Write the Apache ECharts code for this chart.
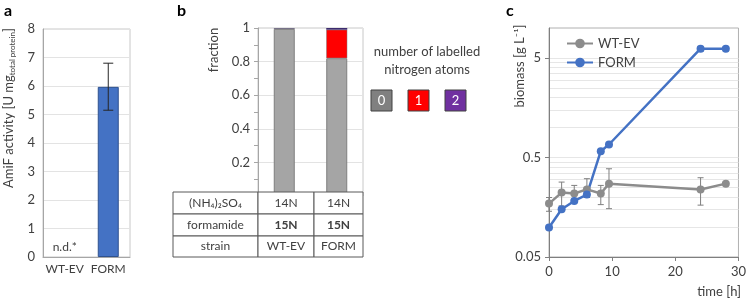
<!DOCTYPE html>
<html>
<head>
<meta charset="utf-8">
<script src="https://cdn.jsdelivr.net/npm/echarts@6/dist/echarts.min.js"></script>
<style>
  html, body { margin: 0; padding: 0; background: #fff; }
  #main { width: 749px; height: 299px; }
</style>
</head>
<body>
<div id="main"></div>
<script>
  // panel a - AmiF activity
  const strainsA = ['WT-EV', 'FORM']
  const activity = [0, 5.97]
  const activityLow = [null, 5.15]
  const activityHigh = [null, 6.8]

  // panel b - labelled nitrogen fractions
  const strainsB = ['WT-EV', 'FORM']
  const labelled0 = [0.995, 0.82]
  const labelled1 = [0.003, 0.17]
  const labelled2 = [0.002, 0.01]
  const tableRows = [
    ['(NH₄)₂SO₄', '14N', '14N'],
    ['formamide', '15N', '15N'],
    ['strain', 'WT-EV', 'FORM']
  ]
  const legendB = ['0', '1', '2']

  // panel c - biomass over time
  const timeH = [0, 2, 4, 6, 8.2, 9.5, 24, 28]
  const wtBiomass = [0.172, 0.222, 0.217, 0.239, 0.217, 0.273, 0.238, 0.273]
  const wtLow = [0.144, 0.163, 0.186, 0.2, 0.168, 0.153, 0.166, 0.266]
  const wtHigh = [0.198, 0.283, 0.262, 0.306, 0.262, 0.385, 0.313, 0.28]
  const formBiomass = [0.099, 0.151, 0.183, 0.212, 0.578, 0.675, 6.19, 6.19]
  const formLow = [0.097, 0.146, 0.178, 0.198, 0.565, 0.66, 5.85, 5.9]
  const formHigh = [0.101, 0.156, 0.188, 0.225, 0.59, 0.69, 6.5, 6.5]
  const yTicksC = [0.05, 0.5, 5]
  const gridLinesC = [0.1, 0.15, 0.2, 0.25, 0.3, 0.35, 0.4, 0.45, 0.5,
    1, 1.5, 2, 2.5, 3, 3.5, 4, 4.5, 5]

  const font = 'Lato'
  const txt = '#404040'
  const COLORS = {
    blue: '#4472c4',
    blueDark: '#2f528f',
    gray: '#8c8c8c',
    barGray: '#a5a5a5',
    red: '#ff0000',
    purple: '#7030a0',
    grid: '#e3e3e3',
    axis: '#a6a6a6'
  }
  const legendColorsB = ['#808080', COLORS.red, COLORS.purple]

  // vertical error bar with caps, through the axis scale
  function errorBar(color, capW) {
    return function (params, api) {
      const x = api.value(0)
      const lo = api.coord([x, api.value(1)])
      const hi = api.coord([x, api.value(2)])
      const style = { stroke: color, lineWidth: 1 }
      return {
        type: 'group',
        children: [
          { type: 'line', shape: { x1: lo[0], y1: lo[1], x2: hi[0], y2: hi[1] }, style },
          { type: 'line', shape: { x1: lo[0] - capW, y1: lo[1], x2: lo[0] + capW, y2: lo[1] }, style },
          { type: 'line', shape: { x1: hi[0] - capW, y1: hi[1], x2: hi[0] + capW, y2: hi[1] }, style }
        ]
      }
    }
  }

  const errA = []
  activity.forEach((v, i) => {
    if (activityLow[i] != null) errA.push([i, activityLow[i], activityHigh[i]])
  })
  const errWt = timeH.map((t, i) => [t, wtLow[i], wtHigh[i]])
  const errForm = timeH.map((t, i) => [t, formLow[i], formHigh[i]])

  // table under panel b
  const colX = [173, 258, 314, 363]
  const rowY = [192, 214, 236, 257]
  const tableEls = []
  tableRows.forEach((row, r) => {
    row.forEach((cell, c) => {
      tableEls.push({
        type: 'rect',
        z: 100,
        shape: { x: colX[c], y: rowY[r], width: colX[c + 1] - colX[c], height: rowY[r + 1] - rowY[r] },
        style: { fill: '#fff', stroke: '#595959', lineWidth: 1 }
      })
      tableEls.push({
        type: 'text',
        z: 101,
        x: (colX[c] + colX[c + 1]) / 2,
        y: (rowY[r] + rowY[r + 1]) / 2,
        style: {
          text: cell,
          align: 'center',
          verticalAlign: 'middle',
          fontFamily: font,
          fontSize: 12,
          fontWeight: (r === 1 && c > 0) ? 'bold' : 'normal',
          fill: txt
        }
      })
    })
  })

  const legendEls = []
  legendB.forEach((lab, i) => {
    const x0 = 371 + i * 37
    legendEls.push({
      type: 'rect',
      shape: { x: x0, y: 90, width: 21, height: 21 },
      style: { fill: legendColorsB[i], stroke: '#404040', lineWidth: 1 }
    })
    legendEls.push({
      type: 'text',
      x: x0 + 10.5, y: 101,
      style: { text: lab, align: 'center', verticalAlign: 'middle', fontFamily: font, fontSize: 13, fill: '#fff' }
    })
  })

  const myChart = echarts.init(document.getElementById('main'))
  const option = {
    backgroundColor: '#fff',
    animation: false,
    textStyle: { fontFamily: font, color: txt },
    legend: {
      data: ['WT-EV', 'FORM'],
      orient: 'vertical',
      left: 561,
      top: 32,
      itemWidth: 26,
      itemHeight: 12,
      itemGap: 6,
      textStyle: { fontFamily: font, fontSize: 13, color: txt }
    },
    grid: [
      { left: 43, top: 29, width: 87, height: 228, show: true, borderColor: '#c8c8c8', borderWidth: 1 },
      { left: 258, top: 28, width: 105, height: 168, show: true, borderColor: '#c8c8c8', borderWidth: 1 },
      { left: 549, top: 28, width: 192, height: 229, show: true, borderColor: '#b0b0b0', borderWidth: 1 }
    ],
    xAxis: [
      {
        gridIndex: 0, type: 'category', data: strainsA,
        axisLine: { lineStyle: { color: COLORS.axis } },
        axisTick: { show: false },
        axisLabel: { fontSize: 12, color: txt, margin: 6, interval: 0, hideOverlap: false }
      },
      {
        gridIndex: 1, type: 'category', data: strainsB,
        axisLine: { show: false }, axisTick: { show: false }, axisLabel: { show: false }
      },
      {
        gridIndex: 2, type: 'value', min: 0, max: 30, interval: 10,
        axisLine: { lineStyle: { color: '#7f7f7f' } },
        axisTick: { show: true, length: 4, lineStyle: { color: '#7f7f7f' } },
        axisLabel: { fontSize: 13, color: txt, margin: 8 },
        splitLine: { show: false }
      }
    ],
    yAxis: [
      {
        gridIndex: 0, type: 'value', min: 0, max: 8, interval: 1,
        axisLine: { show: true, lineStyle: { color: COLORS.axis } },
        axisTick: { show: false },
        axisLabel: { fontSize: 13, color: txt, margin: 8 },
        splitLine: { lineStyle: { color: COLORS.grid } }
      },
      {
        gridIndex: 1, type: 'value', min: 0, max: 1, interval: 0.2,
        axisLine: { show: true, lineStyle: { color: COLORS.axis } },
        axisTick: { show: true, length: 4, lineStyle: { color: COLORS.axis } },
        minorTick: { show: true, splitNumber: 2, length: 4, lineStyle: { color: COLORS.axis } },
        axisLabel: {
          fontSize: 13, color: txt, margin: 8,
          formatter: v => (v === 0 ? '' : String(+v.toFixed(1)))
        },
        splitLine: { lineStyle: { color: COLORS.grid } }
      },
      {
        gridIndex: 2, type: 'log', logBase: 10, min: 0.05, max: 10,
        axisLine: { show: true, lineStyle: { color: '#7f7f7f' } },
        axisTick: { show: true, length: 4, customValues: yTicksC, lineStyle: { color: '#7f7f7f' } },
        axisLabel: {
          fontSize: 13, color: txt, margin: 8, customValues: yTicksC,
          formatter: v => String(+(+v).toPrecision(2))
        },
        splitLine: { show: false }
      }
    ],
    series: [
      {
        name: 'activity', type: 'bar', xAxisIndex: 0, yAxisIndex: 0,
        barWidth: 21,
        itemStyle: { color: COLORS.blue, borderColor: COLORS.blueDark, borderWidth: 1 },
        data: activity.map((v, i) => (i === 0
          ? {
              value: v,
              itemStyle: { color: 'rgba(0,0,0,0)', borderWidth: 0 },
              label: { show: true, position: 'top', distance: 4, formatter: 'n.d.*', fontSize: 12, color: txt }
            }
          : v))
      },
      {
        type: 'custom', xAxisIndex: 0, yAxisIndex: 0,
        renderItem: errorBar('#262626', 5),
        encode: { x: 0, y: [1, 2] },
        data: errA, z: 5
      },
      {
        name: '0', type: 'bar', stack: 'n', xAxisIndex: 1, yAxisIndex: 1, barWidth: 21,
        itemStyle: { color: COLORS.barGray, borderColor: '#7f7f7f', borderWidth: 1 },
        data: labelled0
      },
      {
        name: '1', type: 'bar', stack: 'n', xAxisIndex: 1, yAxisIndex: 1, barWidth: 21,
        itemStyle: { color: COLORS.red, borderColor: '#7f7f7f', borderWidth: 0.5 },
        data: labelled1
      },
      {
        name: '2', type: 'bar', stack: 'n', xAxisIndex: 1, yAxisIndex: 1, barWidth: 21,
        itemStyle: { color: '#3b2a6e', borderWidth: 0 },
        data: labelled2
      },
      {
        name: 'WT-EV', type: 'line', xAxisIndex: 2, yAxisIndex: 2,
        symbol: 'circle', symbolSize: 8,
        lineStyle: { color: COLORS.gray, width: 2.5 },
        itemStyle: { color: COLORS.gray },
        data: timeH.map((t, i) => [t, wtBiomass[i]]),
        markLine: {
          silent: true, symbol: 'none', label: { show: false },
          lineStyle: { color: '#e6e6e6', width: 1, type: 'solid' },
          z: 0,
          data: gridLinesC.map(v => ({ yAxis: v }))
        }
      },
      {
        type: 'custom', xAxisIndex: 2, yAxisIndex: 2,
        renderItem: errorBar('#7f7f7f', 3),
        encode: { x: 0, y: [1, 2] },
        data: errWt
      },
      {
        name: 'FORM', type: 'line', xAxisIndex: 2, yAxisIndex: 2,
        symbol: 'circle', symbolSize: 8,
        lineStyle: { color: COLORS.blue, width: 2.5 },
        itemStyle: { color: COLORS.blue },
        data: timeH.map((t, i) => [t, formBiomass[i]])
      },
      {
        type: 'custom', xAxisIndex: 2, yAxisIndex: 2,
        renderItem: errorBar('#3a5f9f', 3),
        encode: { x: 0, y: [1, 2] },
        data: errForm
      }
    ],
    graphic: [
      { type: 'text', x: 4, y: 3, style: { text: 'a', fontFamily: font, fontSize: 16, fontWeight: 'bold', fill: '#000' } },
      { type: 'text', x: 177, y: 3, style: { text: 'b', fontFamily: font, fontSize: 16, fontWeight: 'bold', fill: '#000' } },
      { type: 'text', x: 506, y: 3, style: { text: 'c', fontFamily: font, fontSize: 16, fontWeight: 'bold', fill: '#000' } },
      {
        type: 'text', x: 9, y: 108, rotation: Math.PI / 2,
        style: {
          text: 'AmiF activity [U mg{sub|total protein}]',
          align: 'center', verticalAlign: 'middle',
          fontFamily: font, fontSize: 13, fill: txt,
          rich: { sub: { fontFamily: font, fontSize: 8, fill: txt, verticalAlign: 'bottom', padding: [7, 0, 0, 0] } }
        }
      },
      {
        type: 'text', x: 214, y: 50, rotation: Math.PI / 2,
        style: { text: 'fraction', align: 'center', verticalAlign: 'middle', fontFamily: font, fontSize: 13, fill: txt }
      },
      {
        type: 'text', x: 520, y: 66, rotation: Math.PI / 2,
        style: { text: 'biomass [g L⁻¹]', align: 'center', verticalAlign: 'middle', fontFamily: font, fontSize: 13, fill: txt }
      },
      {
        type: 'text', x: 741, y: 292,
        style: { text: 'time [h]', align: 'right', verticalAlign: 'middle', fontFamily: font, fontSize: 13, fill: txt }
      },
      {
        type: 'text', x: 427, y: 61,
        style: { text: 'number of labelled\nnitrogen atoms', align: 'center', verticalAlign: 'middle', lineHeight: 18, fontFamily: font, fontSize: 13, fill: txt }
      }
    ].concat(legendEls, tableEls)
  }
  myChart.setOption(option)
</script>
</body>
</html>
